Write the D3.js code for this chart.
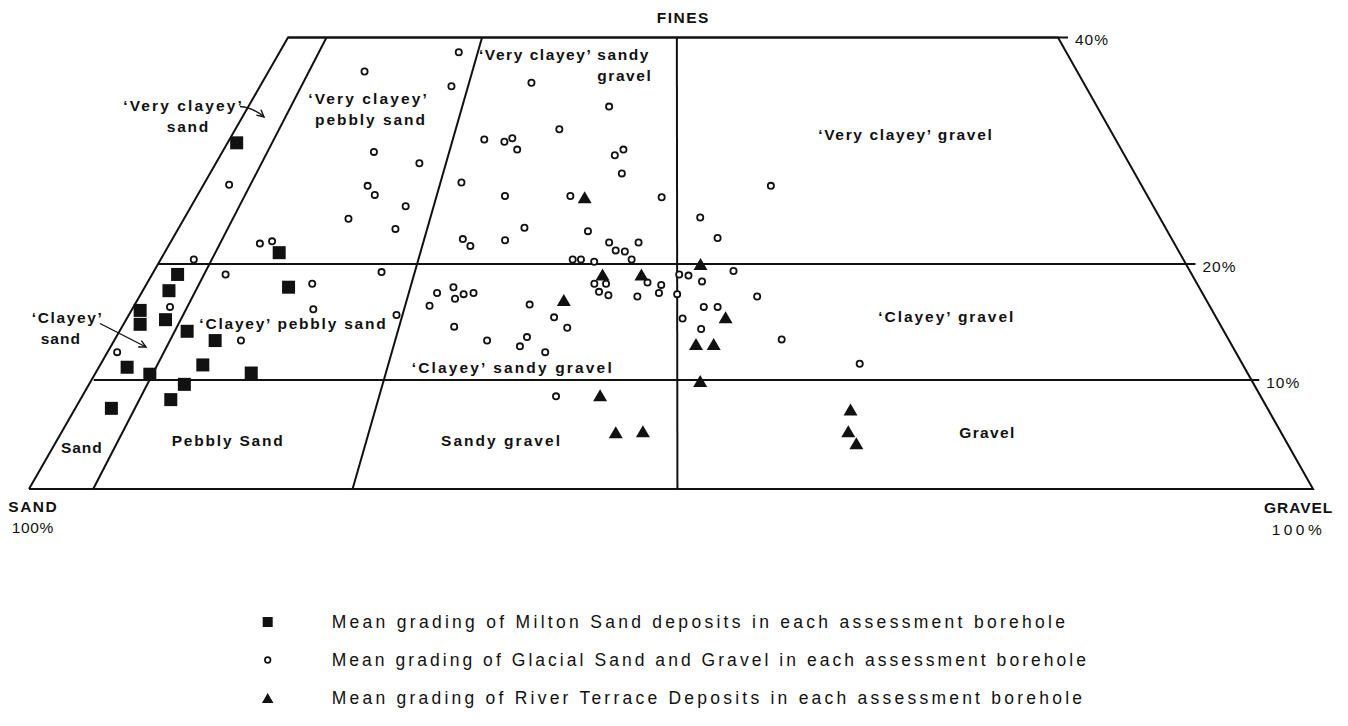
<!DOCTYPE html>
<html>
<head>
<meta charset="utf-8">
<script src="https://cdn.jsdelivr.net/npm/d3@7"></script>
<style>
  html, body { margin: 0; padding: 0; background: #fff; }
  svg { display: block; }
  text { font-family: "Liberation Sans", Arial, Helvetica, sans-serif; fill: #111; }
</style>
</head>
<body>
<svg id="chart" width="1348" height="726"></svg>
<script>
// Mean gradings per assessment borehole:
// gravel = gravel as % of the sand + gravel fraction, fines = fines % of the whole sample.
const miltonGravel = [1.0, 11.2, 13.5, 2.4, 2.4, 0.7, 1.4, 3.5, 6.0, 8.9, 2.3, 4.6, 8.8, 13.3, 8.0, 7.5, 2.9];
const miltonFines  = [30.7, 21.0, 18.0, 19.1, 17.7, 16.0, 14.8, 15.2, 14.2, 13.4, 11.1, 10.5, 11.3, 10.6, 9.6, 8.2, 7.4];

const glacialGravel = [
  2.7, 11.8, 16.7, 22.1, 17.4, 18.5, 22.1, 16.7, 21.8, 8.9, 10.0, 3.2, 7.0, 3.3, 11.2, 0.7,
  15.6, 16.6, 21.8, 24.4, 22.6, 23.0, 32.5, 42.1, 36.7, 28.5, 30.8, 31.6, 32.4, 43.2, 44.1, 44.1,
  27.2, 32.1, 38.9, 48.4, 34.7, 41.1, 28.8, 29.7, 33.0, 43.3, 44.0, 44.9, 46.2, 60.1, 52.4, 54.1,
  39.9, 40.7, 42.0, 45.6, 42.2, 43.3, 42.7, 43.6, 47.2, 48.5, 48.3, 46.3, 50.2, 51.1, 52.4, 55.5,
  50.0, 57.6, 50.5, 52.5, 53.8, 52.2, 59.5, 66.2, 29.0, 27.6, 29.4, 30.1, 31.0, 27.2, 36.4, 38.8,
  40.1, 29.9, 33.1, 36.6, 36.1, 38.4, 39.8
];
const glacialFines = [
  27.0, 37.0, 29.9, 28.9, 26.9, 26.1, 25.1, 24.0, 23.1, 21.8, 22.0, 20.4, 19.1, 16.3, 13.4, 12.4,
  18.3, 16.1, 19.3, 15.6, 38.7, 35.7, 36.0, 33.9, 31.9, 31.0, 30.8, 31.1, 30.1, 29.6, 30.1, 28.0,
  27.2, 26.0, 26.0, 25.9, 23.2, 22.9, 22.2, 21.6, 22.1, 21.9, 21.2, 21.1, 21.9, 26.9, 24.1, 22.3,
  20.4, 20.4, 20.2, 20.4, 18.3, 18.3, 17.6, 17.3, 18.4, 18.2, 17.5, 17.2, 19.1, 19.0, 18.5, 19.4,
  17.4, 17.2, 15.3, 16.3, 16.3, 14.4, 13.5, 11.4, 18.0, 17.5, 17.0, 17.4, 17.5, 16.4, 16.5, 15.4,
  14.5, 14.6, 13.4, 13.7, 12.9, 12.4, 8.5
];

const terraceGravel = [40.4, 52.3, 42.9, 46.6, 39.5, 54.5, 51.7, 53.3, 52.0, 43.5, 45.0, 47.2, 64.7, 64.2, 64.7];
const terraceFines  = [25.9, 20.0, 19.1, 19.1, 16.9, 15.4, 13.1, 13.1, 9.9, 8.6, 5.2, 5.3, 7.3, 5.3, 4.2];

// Classification boundaries and axis text
const finesTicks = [10, 20, 40];
const finesTickLabels = ["10%", "20%", "40%"];
const gravelBounds = [5, 25, 50];
const seriesLabels = [
  "Mean grading of Milton Sand deposits in each assessment borehole",
  "Mean grading of Glacial Sand and Gravel in each assessment borehole",
  "Mean grading of River Terrace Deposits in each assessment borehole"
];

const svg = d3.select("#chart");
svg.append("rect").attr("width", 1348).attr("height", 726).attr("fill", "#fff");

// Truncated ternary (sand - gravel - fines) projection
const yScale = d3.scaleLinear().domain([0, 10, 20, 40]).range([489, 380, 264, 37.5]);
const gShare = d3.scaleLinear().domain([0, 5, 25, 50, 100]).range([0, 0.05, 0.252, 0.505, 1]);
const leftX = d3.scaleLinear().domain([0, 40]).range([29, 288]);
const rightX = d3.scaleLinear().domain([0, 40]).range([1313, 1058]);
function proj(g, f) {
  const a = leftX(f), b = rightX(f);
  return [a + gShare(g) * (b - a), yScale(f)];
}

const ink = "#111";
const frame = svg.append("g").attr("fill", "none").attr("stroke", ink)
  .attr("stroke-width", 2).attr("stroke-linejoin", "miter");

// outline
const line = d3.line();
frame.append("path")
  .attr("d", line([[0, 0], [0, 40], [100, 40], [100, 0]].map(d => proj(d[0], d[1])).concat([proj(0, 0)])));

// fines boundaries with ticks beyond the right edge
const tickLen = 10;
finesTicks.forEach((f, i) => {
  const p0 = proj(0, f), p1 = proj(100, f);
  frame.append("line").attr("x1", p0[0]).attr("y1", p0[1]).attr("x2", p1[0] + tickLen).attr("y2", p1[1]);
  svg.append("text").attr("x", p1[0] + 17).attr("y", p1[1] + 7.5)
    .attr("font-size", 15.5).attr("textLength", 33).attr("lengthAdjust", "spacing")
    .text(finesTickLabels[i]);
});

// gravel : sand ratio boundaries
gravelBounds.forEach(g => {
  const p0 = proj(g, 0), p1 = proj(g, 40);
  frame.append("line").attr("x1", p0[0]).attr("y1", p0[1]).attr("x2", p1[0]).attr("y2", p1[1]);
});

// Region and corner labels
const labels = [
  ["\u2018Very clayey\u2019", 123.3, 110.5, 118.4, "bold"],
  ["sand", 166.7, 131.7, 41.6, "bold"],
  ["\u2018Very clayey\u2019", 308.3, 104, 118.4, "bold"],
  ["pebbly sand", 315, 125, 110, "bold"],
  ["\u2018Very clayey\u2019 sandy", 479, 60, 169.3, "bold"],
  ["gravel", 597.3, 81, 53.4, "bold"],
  ["\u2018Very clayey\u2019 gravel", 818.3, 140, 173.4, "bold"],
  ["\u2018Clayey\u2019", 31.7, 323.3, 70, "bold"],
  ["sand", 40.7, 343.7, 39.3, "bold"],
  ["\u2018Clayey\u2019 pebbly sand", 199.3, 329.3, 186.4, "bold"],
  ["\u2018Clayey\u2019 sandy gravel", 411.7, 373.3, 200, "bold"],
  ["\u2018Clayey\u2019 gravel", 878.3, 321.7, 135, "bold"],
  ["Sand", 61, 453, 40.7, "bold"],
  ["Pebbly Sand", 171.7, 446, 111, "bold"],
  ["Sandy gravel", 441, 446, 119, "bold"],
  ["Gravel", 959.3, 438.3, 55, "bold"],
  ["FINES", 656.7, 23.3, 51.6, "bold"],
  ["SAND", 8.3, 511.7, 48.4, "bold"],
  ["100%", 11.7, 533.3, 41.6, "normal"],
  ["GRAVEL", 1264, 513.3, 68.3, "bold"],
  ["100%", 1271.7, 535, 50, "normal"]
];
svg.append("g").selectAll("text").data(labels).join("text")
  .attr("x", d => d[1]).attr("y", d => d[2])
  .attr("font-size", 15.5).attr("font-weight", d => d[4])
  .attr("textLength", d => d[3]).attr("lengthAdjust", "spacing")
  .text(d => d[0]);

// pointer arrows for the narrow sand bands
const defs = svg.append("defs");
defs.append("marker").attr("id", "head").attr("viewBox", "-8 -5 10 10")
  .attr("refX", 0).attr("refY", 0).attr("markerWidth", 10).attr("markerHeight", 10)
  .attr("markerUnits", "userSpaceOnUse").attr("orient", "auto")
  .append("path").attr("d", "M-7,-3.5 L0,0 L-7,3.5").attr("fill", "none")
  .attr("stroke", ink).attr("stroke-width", 1.4);
svg.append("path").attr("d", "M240,106.5 Q253,107.5 264,117")
  .attr("fill", "none").attr("stroke", ink).attr("stroke-width", 1.4).attr("marker-end", "url(#head)");
svg.append("path").attr("d", "M100,323.5 L146,347")
  .attr("fill", "none").attr("stroke", ink).attr("stroke-width", 1.4).attr("marker-end", "url(#head)");

// Data points
const zip = (gs, fs) => gs.map((g, i) => proj(g, fs[i]));
const triPath = (w, h) => `M0,${-h / 2}L${w / 2},${h / 2}L${-w / 2},${h / 2}Z`;

svg.append("g").selectAll("circle").data(zip(glacialGravel, glacialFines)).join("circle")
  .attr("cx", d => d[0]).attr("cy", d => d[1]).attr("r", 3.1)
  .attr("fill", "#fff").attr("stroke", ink).attr("stroke-width", 1.8);

svg.append("g").selectAll("rect").data(zip(miltonGravel, miltonFines)).join("rect")
  .attr("x", d => d[0] - 6.5).attr("y", d => d[1] - 6.5).attr("width", 13).attr("height", 13)
  .attr("fill", ink);

svg.append("g").selectAll("path").data(zip(terraceGravel, terraceFines)).join("path")
  .attr("transform", d => `translate(${d[0]},${d[1]})`)
  .attr("d", triPath(14, 12)).attr("fill", ink);

// Legend
const legendY = [622, 660, 698];
const legendX = 267.7;
const leg = svg.append("g");
leg.append("rect").attr("x", legendX - 5).attr("y", legendY[0] - 5).attr("width", 10).attr("height", 10).attr("fill", ink);
leg.append("circle").attr("cx", legendX).attr("cy", legendY[1]).attr("r", 2.8)
  .attr("fill", "#fff").attr("stroke", ink).attr("stroke-width", 1.7);
leg.append("path").attr("transform", `translate(${legendX},${legendY[2]})`).attr("d", triPath(11.5, 10)).attr("fill", ink);
const legendWidths = [733.3, 754.3, 750.3];
leg.selectAll("text").data(seriesLabels).join("text")
  .attr("x", 331.7).attr("y", (d, i) => legendY[i] + 6.3)
  .attr("font-size", 17.5)
  .attr("textLength", (d, i) => legendWidths[i]).attr("lengthAdjust", "spacing")
  .text(d => d);
</script>
</body>
</html>
